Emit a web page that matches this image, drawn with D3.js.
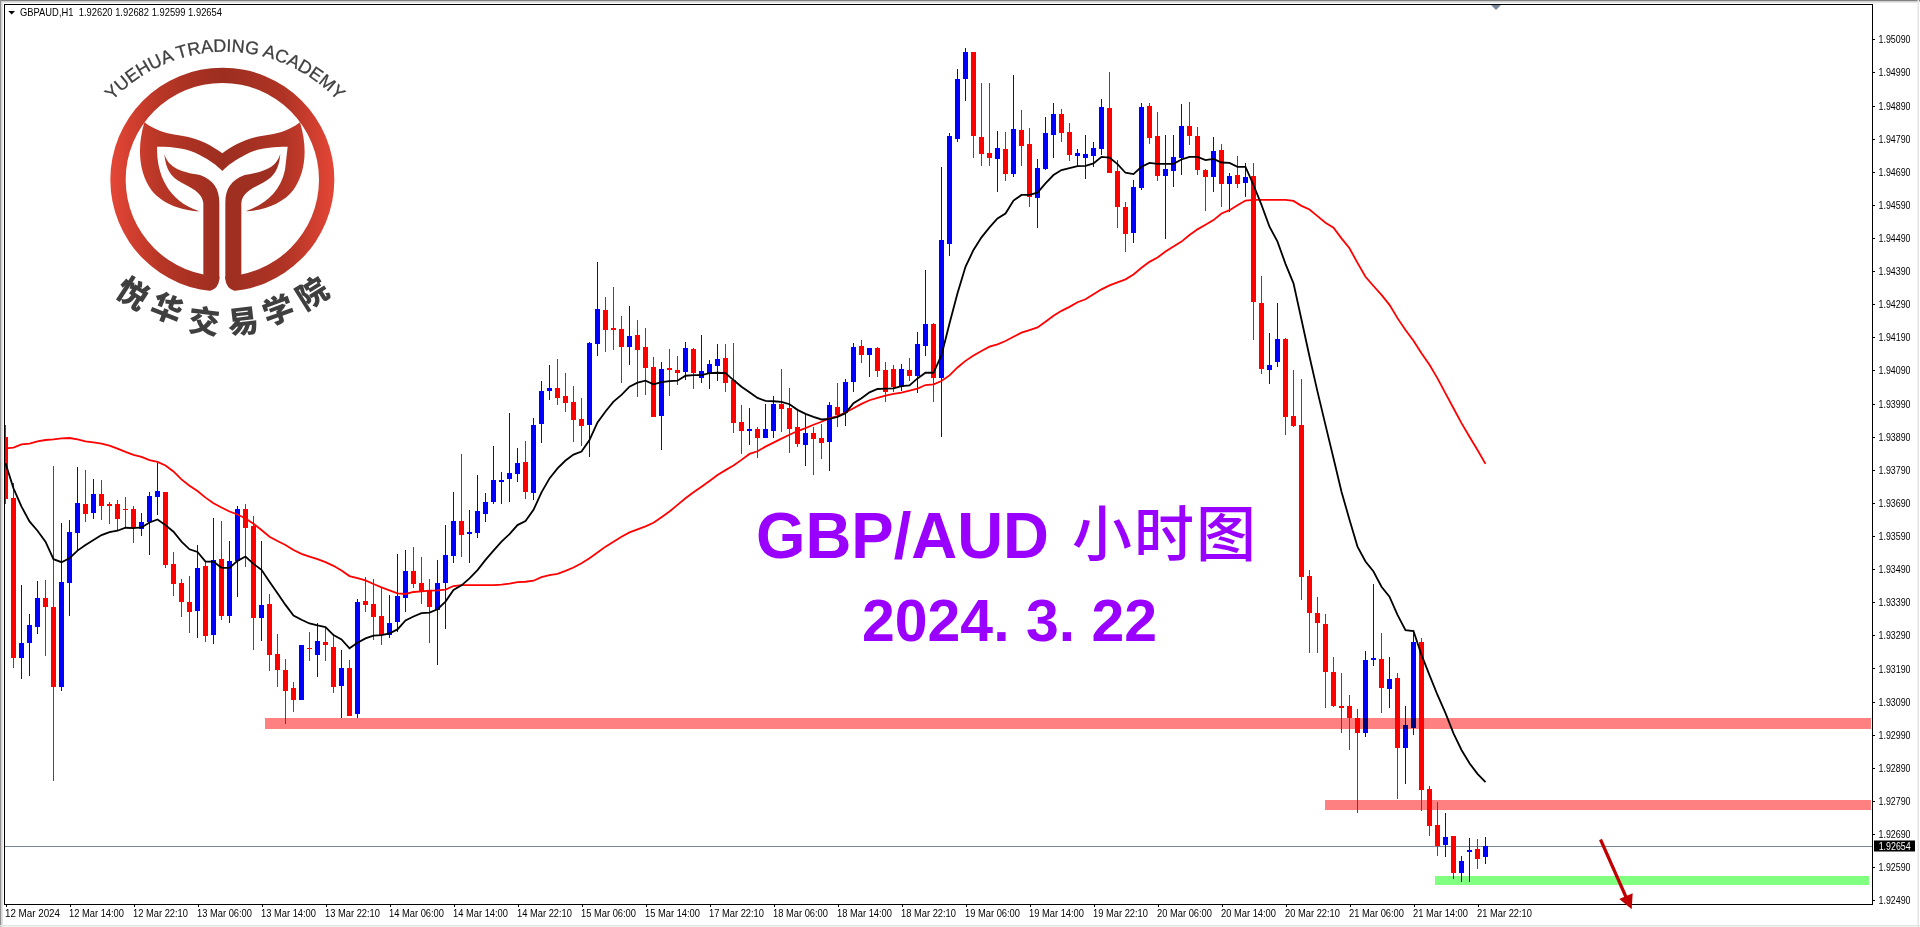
<!DOCTYPE html>
<html><head><meta charset="utf-8">
<script src="https://cdn.jsdelivr.net/npm/d3@7"></script>
<style>
html,body{margin:0;padding:0;background:#fff;overflow:hidden}
svg{display:block}
.ax text{font-family:"Liberation Sans",Arial,sans-serif;font-size:11px;fill:#000}
.ax line{stroke:#000;shape-rendering:crispEdges}
</style></head><body>
<svg id="c" width="1920" height="927"></svg>
<script>
// price values are in points (price x 100000)
const opens=[193888,193705,193223,193268,193316,193402,193375,193135,193449,193600,
193687,193661,193716,193686,193686,193672,193671,193610,193632,193709,
193722,193505,193447,193390,193365,193500,193292,193520,193350,193514,
193671,193619,193341,193384,193233,193185,193130,193096,193252,193232,
193269,193255,193138,193191,193054,193393,193384,193348,193292,193329,
193404,193484,193447,193425,193367,193449,193531,193635,193597,193600,
193658,193694,193754,193763,193778,193813,193721,193929,194029,194036,
194013,193994,193942,193926,194171,194272,194217,194214,194162,194196,
194160,194099,193953,194096,194090,194086,194154,194068,194083,194104,
194128,194061,193933,193908,193912,193887,193908,193989,193977,193918,
193866,193900,193885,193875,193979,193961,194055,194163,194138,194157,
194090,194093,194041,194090,194074,194165,194229,194068,194473,194790,
194971,195051,194794,194746,194729,194758,194684,194816,194773,194612,
194699,194802,194863,194810,194738,194732,194738,194760,194884,194691,
194585,194506,194642,194890,194797,194678,194693,194731,194827,194797,
194694,194675,194755,194654,194679,194657,194676,194293,194092,194116,
194185,193953,193924,193468,193357,193325,193179,193077,193076,193040,
192996,193217,193218,193129,193160,192951,193011,193269,192825,192716,
192658,192683,192571,192638,192644,192620];
const highs=[193925,193749,193442,193355,193454,193457,193802,193630,193639,193799,
193790,193762,193759,193694,193699,193708,193680,193660,193722,193810,
193722,193542,193460,193469,193563,193512,193645,193636,193575,193680,
193687,193650,193575,193415,193294,193219,193149,193261,193300,193327,
193316,193290,193246,193216,193399,193465,193460,193437,193412,193536,
193548,193557,193527,193459,193518,193623,193723,193838,193669,193774,
193720,193862,193783,193962,193856,193877,193946,194058,194106,194125,
194082,194043,194007,194176,194418,194312,194342,194254,194285,194242,
194218,194131,194116,194155,194134,194176,194158,194197,194122,194170,
194170,194173,193986,193977,193919,193989,194013,194094,194037,193971,
193959,193920,193928,193994,194052,194063,194173,194182,194157,194160,
194116,194105,194110,194128,194206,194393,194232,194704,194806,195000,
195064,195051,194958,194958,194813,194810,194982,194876,194822,194728,
194855,194898,194879,194837,194759,194801,194780,194910,194991,194727,
194598,194665,194898,194898,194870,194801,194801,194895,194901,194825,
194697,194795,194774,194685,194737,194716,194715,194374,194203,194294,
194187,194092,194064,193488,193406,193355,193225,193177,193110,193068,
193243,193445,193297,193225,193177,193077,193305,193282,192835,192787,
192754,192684,192624,192678,192675,192682];
const lows=[193687,193190,193157,193168,193295,193229,192851,193123,193350,193546,
193631,193640,193639,193625,193608,193618,193570,193591,193534,193652,
193492,193410,193347,193298,193283,193271,193265,193335,193326,193407,
193496,193247,193274,193181,193135,193021,193060,193096,193214,193165,
193214,193117,193041,193048,193039,193362,193277,193262,193282,193301,
193362,193433,193386,193268,193200,193310,193510,193528,193510,193585,
193633,193688,193688,193694,193754,193703,193700,193872,194001,193986,
193965,193874,193863,193830,194135,194147,194153,194052,194106,194011,
194017,193950,193851,194014,194047,194062,194035,194053,194035,194058,
194026,193902,193839,193866,193827,193887,193887,193905,193842,193860,
193802,193775,193824,193787,193920,193923,194026,194114,194071,194071,
193996,194026,194027,194058,194023,194135,193996,193888,194436,194781,
194905,194732,194708,194708,194630,194663,194675,194708,194584,194521,
194696,194732,194781,194723,194705,194669,194705,194742,194687,194521,
194449,194476,194636,194775,194663,194488,194645,194681,194772,194681,
194572,194630,194584,194569,194642,194615,194183,194080,194050,194101,
193896,193920,193398,193238,193238,193072,193075,192996,192945,192755,
192984,193199,193057,193072,192797,192842,192990,192761,192685,192625,
192622,192555,192546,192546,192586,192599];
const closes=[193703,193223,193266,193320,193402,193375,193135,193450,193602,193690,
193658,193716,193682,193682,193640,193668,193613,193632,193710,193725,
193504,193446,193392,193362,193493,193289,193517,193350,193514,193671,
193615,193341,193381,193232,193184,193123,193096,193260,193249,193272,
193262,193135,193191,193048,193390,193383,193347,193292,193327,193409,
193484,193446,193420,193377,193447,193533,193635,193594,193602,193666,
193693,193758,193759,193780,193810,193724,193924,194027,194036,194008,
193993,193941,193923,194173,194275,194213,194215,194162,194194,194153,
194098,193950,194093,194092,194083,194157,194082,194087,194109,194124,
194053,193932,193908,193912,193887,193912,193988,193975,193914,193869,
193900,193884,193872,193985,193954,194054,194160,194138,194157,194089,
194026,194041,194093,194074,194169,194229,194068,194484,194797,194969,
195051,194799,194745,194732,194761,194684,194818,194769,194615,194700,
194806,194863,194808,194742,194746,194743,194761,194887,194687,194584,
194503,194643,194887,194793,194678,194697,194736,194827,194799,194696,
194675,194752,194654,194676,194654,194673,194298,194095,194105,194184,
193948,193922,193467,193359,193326,193178,193077,193072,193039,192996,
193215,193221,193132,193157,192951,193018,193269,192824,192715,192655,
192680,192571,192608,192641,192616,192654];
const blackMA=[193810,193734,193679,193634,193606,193573,193520,193511,193523,193546,
193563,193578,193593,193602,193606,193615,193614,193616,193631,193640,
193623,193603,193573,193550,193542,193513,193513,193494,193494,193515,
193528,193506,193488,193452,193417,193382,193350,193337,193326,193320,
193315,193291,193278,193251,193268,193281,193289,193291,193296,193308,
193335,193347,193357,193359,193369,193392,193427,193441,193462,193487,
193518,193546,193573,193596,193623,193635,193669,193722,193764,193794,
193818,193836,193845,193880,193933,193966,193996,194016,194041,194053,
194059,194048,194055,194058,194059,194074,194076,194076,194082,194083,
194082,194061,194041,194024,194007,193998,193997,193995,193988,193971,
193959,193950,193942,193944,193950,193961,193991,194006,194024,194034,
194035,194036,194043,194045,194066,194083,194083,194136,194232,194323,
194403,194454,194492,194522,194549,194564,194603,194620,194620,194627,
194655,194680,194695,194701,194707,194708,194715,194735,194733,194713,
194687,194683,194705,194717,194714,194714,194714,194727,194735,194735,
194725,194729,194718,194717,194705,194705,194650,194590,194524,194479,
194412,194353,194243,194132,194026,193925,193825,193724,193639,193558,
193513,193483,193437,193407,193352,193306,193303,193231,193170,193110,
193055,192994,192944,192904,192872,192847];
const redMA=[193855,193857,193867,193869,193876,193880,193882,193885,193886,193882,
193876,193873,193869,193863,193854,193844,193835,193829,193819,193814,
193803,193785,193761,193742,193726,193706,193689,193676,193664,193655,
193643,193627,193608,193588,193575,193563,193548,193536,193528,193520,
193511,193500,193486,193469,193463,193456,193445,193435,193426,193417,
193415,193421,193423,193425,193426,193428,193439,193442,193442,193442,
193442,193442,193443,193446,193451,193452,193455,193466,193472,193476,
193485,193495,193508,193523,193540,193558,193573,193588,193601,193610,
193619,193630,193647,193664,193684,193704,193722,193739,193756,193774,
193789,193803,193820,193838,193846,193860,193872,193884,193896,193907,
193916,193926,193935,193945,193952,193963,193976,193989,194000,194007,
194014,194019,194023,194029,194035,194046,194048,194058,194075,194099,
194119,194135,194149,194162,194169,194179,194192,194204,194212,194220,
194237,194255,194270,194282,194296,194305,194320,194335,194347,194356,
194365,194380,194400,194418,194431,194449,194464,194479,194499,194516,
194530,194544,194564,194574,194589,194603,194605,194605,194605,194605,
194605,194602,194587,194576,194556,194536,194521,194489,194459,194415,
194373,194345,194318,194288,194248,194212,194180,194142,194107,194066,
194021,193976,193931,193890,193850,193808];
const timeLabels=["12 Mar 2024","12 Mar 14:00","12 Mar 22:10","13 Mar 06:00","13 Mar 14:00","13 Mar 22:10","14 Mar 06:00","14 Mar 14:00","14 Mar 22:10","15 Mar 06:00","15 Mar 14:00","17 Mar 22:10","18 Mar 06:00","18 Mar 14:00","18 Mar 22:10","19 Mar 06:00","19 Mar 14:00","19 Mar 22:10","20 Mar 06:00","20 Mar 14:00","20 Mar 22:10","21 Mar 06:00","21 Mar 14:00","21 Mar 22:10"];
const priceTicks=d3.range(192490,195091,100);
const lastPrice=192654;
const zoneStart=[32.44,164.94,178.69];
const zoneEnd=[233.2,233.2,232.9];
const zoneHigh=[193041,192793,192563];
const zoneLow=[193007,192763,192536];
const zoneFill=["#ff8080","#ff8080","#80ff80"];

const svg=d3.select("#c");
const x=d3.scaleLinear().domain([0,185]).range([5.5,1485.5]);
const y=d3.scaleLinear().domain([192490,195090]).range([900.3,39.3]);
const fmt=v=>(v/100000).toFixed(5);
const purple="#9900ff";

const defs=svg.append("defs");
defs.append("clipPath").attr("id","plot").append("rect").attr("x",5).attr("y",5).attr("width",1867).attr("height",899);
const grad=defs.append("linearGradient").attr("id","lg").attr("gradientUnits","userSpaceOnUse").attr("x1",330).attr("x2",1003).attr("y1",0).attr("y2",0);
[[0,"#e54636"],[.22,"#b83626"],[.5,"#9c2e20"],[.78,"#b03425"],[1,"#e54636"]].forEach(s=>grad.append("stop").attr("offset",s[0]).attr("stop-color",s[1]));
defs.append("path").attr("id","arcT").attr("d","M215,615 A460,460 0 0 1 1135,615");

// window frame
svg.append("rect").attr("x",0).attr("y",0).attr("width",1920).attr("height",1.5).attr("fill","#808080");
svg.append("rect").attr("x",0).attr("y",0).attr("width",1.5).attr("height",927).attr("fill","#909090");
svg.append("rect").attr("x",1.5).attr("y",1.5).attr("width",1918).attr("height",1.5).attr("fill","#e4e4e4");
svg.append("rect").attr("x",1.5).attr("y",1.5).attr("width",1.5).attr("height",925).attr("fill","#e4e4e4");
svg.append("rect").attr("x",1917.5).attr("y",0).attr("width",1.5).attr("height",927).attr("fill","#e4e4e4");
svg.append("rect").attr("x",0).attr("y",925).attr("width",1920).attr("height",1.5).attr("fill","#e4e4e4");

// logo
const logo=svg.append("g").attr("transform","scale(0.33333)");
logo.append("path").attr("fill","url(#lg)").attr("fill-rule","evenodd")
 .attr("d","M331,539a336,336 0 1 0 672,0a336,336 0 1 0 -672,0Z M377,539a290,290 0 1 0 580,0a290,290 0 1 0 -580,0Z");
logo.append("path").attr("fill","#fff").attr("d","M658,600 L658,838 Q656,866 628,874 L640,892 L694,892 L706,874 Q678,866 676,838 L676,600Z");
const leaf="M493,462 C505,500 535,515 600,525 C640,540 658,565 658,610 L658,838 L610,824 L610,610 C608,585 590,570 545,548 C510,530 497,505 493,462Z";
logo.append("path").attr("fill","url(#lg)").attr("d",leaf);
logo.append("path").attr("fill","#9f2f21").attr("transform","translate(1334,0) scale(-1,1)").attr("d",leaf);
logo.append("path").attr("fill","url(#lg)").attr("d","M433,367 C470,395 510,403 545,407 C600,415 640,440 667,460 C694,440 734,415 789,407 C824,403 864,395 900,367 C925,450 915,520 880,570 C850,610 790,632 737,634 C790,615 840,580 855,510 L863,440 C810,440 770,445 735,465 C705,480 685,495 667,513 C649,495 629,480 599,465 C564,445 524,440 471,440 C470,520 500,600 598,634 C544,632 484,610 454,570 C419,520 409,450 433,367Z");
logo.append("text").attr("font-family","'Liberation Sans',Arial,sans-serif").attr("font-size",54).attr("fill","#404040").attr("stroke","#404040").attr("stroke-width",0.8)
 .append("textPath").attr("href","#arcT").attr("startOffset","50%").attr("text-anchor","middle").text("YUEHUA TRADING ACADEMY");
const seal=["悦","华","交","易","学","院"], sealX=[133,167,204,243,278,312], sealY=[293,308,321,321,310,293], sealR=[33,22,7,-7,-20,-32];
seal.forEach((c,i)=>svg.append("text").attr("transform",`translate(${sealX[i]},${sealY[i]}) rotate(${sealR[i]})`)
 .attr("text-anchor","middle").attr("dy","0.38em").attr("font-family","'Noto Sans CJK SC'").attr("font-weight",900).attr("font-size",31).attr("fill","#3f3f3f").text(c));

const plot=svg.append("g").attr("clip-path","url(#plot)");
// current price line
plot.append("line").attr("x1",5).attr("x2",1872).attr("y1",Math.round(y(lastPrice))+0.5).attr("y2",Math.round(y(lastPrice))+0.5).attr("stroke","#778899").attr("shape-rendering","crispEdges");

// candles
const idx=d3.range(opens.length);
const col=i=>closes[i]>=opens[i]?"#0000ff":"#ff0000";
const px=i=>Math.floor(x(i));
plot.append("g").selectAll("rect").data(idx).join("rect")
 .attr("x",px).attr("width",1).attr("y",i=>y(highs[i])).attr("height",i=>y(lows[i])-y(highs[i])).attr("fill",col).attr("shape-rendering","crispEdges");
plot.append("g").selectAll("rect").data(idx).join("rect")
 .attr("x",i=>px(i)-2).attr("width",5).attr("y",i=>y(Math.max(opens[i],closes[i])))
 .attr("height",i=>Math.max(1.5,Math.abs(y(opens[i])-y(closes[i])))).attr("fill",col).attr("shape-rendering","crispEdges");

// moving averages
const line=d3.line().x((d,i)=>x(i)).y(d=>y(d));
plot.append("path").attr("d",line(redMA)).attr("fill","none").attr("stroke","#ff0000").attr("stroke-width",1.8);
plot.append("path").attr("d",line(blackMA)).attr("fill","none").attr("stroke","#000").attr("stroke-width",1.8);

// zones
zoneHigh.forEach((h,i)=>svg.append("rect").attr("x",x(zoneStart[i])).attr("width",x(zoneEnd[i])-x(zoneStart[i]))
 .attr("y",y(h)).attr("height",y(zoneLow[i])-y(h)).attr("fill",zoneFill[i]).style("mix-blend-mode","multiply").attr("shape-rendering","crispEdges"));

// axes
const xa=svg.append("g").attr("class","ax").attr("transform","translate(0,904)")
 .call(d3.axisBottom(x).tickValues(d3.range(0,185,8)).tickSize(3).tickPadding(2).tickFormat(i=>timeLabels[i/8]));
xa.select(".domain").remove();
xa.selectAll("text").attr("text-anchor","start").attr("x",-1).attr("textLength",55).attr("lengthAdjust","spacingAndGlyphs");
const ya=svg.append("g").attr("class","ax").attr("transform","translate(1872,0)")
 .call(d3.axisRight(y).tickValues(priceTicks).tickSize(3).tickPadding(3.5).tickFormat(fmt));
ya.select(".domain").remove();
ya.selectAll("text").attr("textLength",32).attr("lengthAdjust","spacingAndGlyphs");

// frame
svg.append("rect").attr("x",4.5).attr("y",4.5).attr("width",1868).attr("height",900).attr("fill","none").attr("stroke","#000").attr("shape-rendering","crispEdges");

// last price tag
const ly=y(lastPrice);
svg.append("rect").attr("x",1874).attr("y",ly-5.5).attr("width",41).attr("height",11).attr("fill","#000");
svg.append("text").attr("class","tag").attr("x",1878.7).attr("y",ly).attr("dy","0.36em").attr("fill","#fff")
 .attr("font-family","'Liberation Sans',Arial,sans-serif").attr("font-size",11).attr("textLength",32).attr("lengthAdjust","spacingAndGlyphs").text(fmt(lastPrice));

// header
svg.append("path").attr("d","M8.3,11 L15,11 L11.7,14.5Z").attr("fill","#000");
svg.append("text").attr("x",20).attr("y",16).attr("font-family","'Liberation Sans',Arial,sans-serif").attr("font-size",11)
 .attr("textLength",202).attr("lengthAdjust","spacingAndGlyphs").style("white-space","pre")
 .text(`GBPAUD,H1  ${fmt(opens[185])} ${fmt(highs[185])} ${fmt(lows[185])} ${fmt(closes[185])}`);
svg.append("path").attr("d","M1491,5 L1501,5 L1496,10Z").attr("fill","#778899");

// title
svg.append("text").attr("x",756).attr("y",557.5).attr("font-family","'Liberation Sans',Arial,sans-serif").attr("font-weight",700).attr("font-size",64).attr("fill",purple).attr("textLength",293).attr("lengthAdjust","spacingAndGlyphs").text("GBP/AUD");
svg.append("text").attr("x",1072).attr("y",556).attr("font-family","'Noto Sans CJK SC'").attr("font-weight",500).attr("font-size",60).attr("fill",purple).attr("textLength",184).text("小时图");
svg.append("text").attr("x",862).attr("y",641).attr("font-family","'Liberation Sans',Arial,sans-serif").attr("font-weight",700).attr("font-size",60).attr("fill",purple).attr("textLength",295).attr("lengthAdjust","spacingAndGlyphs").style("white-space","pre").text("2024. 3. 22");

// arrow
svg.append("line").attr("x1",1600.5).attr("y1",839.5).attr("x2",1626).attr("y2",897).attr("stroke","#c00000").attr("stroke-width",3.2);
svg.append("path").attr("d","M1619.3,899 L1632.7,893.3 L1631.7,909.3Z").attr("fill","#c00000");
</script></body></html>
